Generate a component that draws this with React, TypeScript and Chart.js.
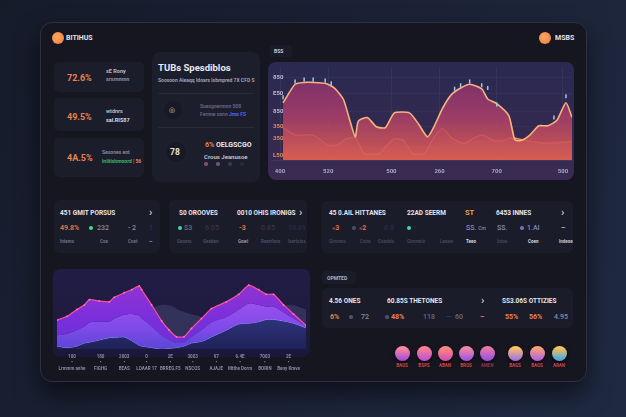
import React, { useEffect, useRef } from 'react';
import { Chart, registerables } from 'chart.js';
Chart.register(...registerables);
Chart.defaults.font.family = 'Roboto, "DejaVu Sans", sans-serif';

// ---------- top area chart data ----------
const topMainX = [4, 8, 11, 14, 18, 21, 24, 26, 28, 29, 32, 35, 38, 41, 46, 49, 52, 54, 57, 60, 63, 66, 70, 72, 75, 79, 81, 83, 86, 89, 92, 95, 98, 100];
const topMainY = [62, 82, 84, 84, 83, 78, 66, 45, 25, 42, 46, 36, 35, 51, 51, 39, 25, 35, 56, 71, 78, 82, 77, 66, 61, 48, 22, 21, 27, 37, 37, 43, 62, 46];
const topLowX = [4, 8, 14, 19, 22, 25, 28, 31, 36, 38, 41, 44, 47, 51, 54, 57, 60, 64, 67, 70, 74, 77, 80, 86, 93, 100];
const topLowY = [35, 27, 27, 16, 16, 23, 24, 7, 7, 14, 23, 21, 7, 7, 24, 34, 24, 18, 23, 27, 21, 21, 24, 20, 18, 20];
const topBandX = [4, 14, 24, 34, 44, 54, 64, 74, 84, 94, 100];
const topBandY = [14, 18, 17, 13, 16, 14, 19, 21, 18, 20, 19];
const topMarkX = [4, 8, 11, 14, 18, 20, 61, 63, 66, 70, 72, 75, 94, 98];
const topMarkY = [68, 85, 87, 87, 86, 83, 77, 81, 85, 81, 78, 60, 46, 69];
const topYTickVals = [89, 72, 52, 36, 23, 5];
const topYTickLabels = ['850', 'E50', '850', '350', '350', 'L500'];
const topXTickVals = [3, 19, 40, 56, 75, 97];
const topXTickLabels = ['400', '520', '500', '260', '700', '500'];

// ---------- bottom area chart data ----------
const botX = [0, 4, 8, 11, 13, 17, 21, 23, 27, 30, 33, 34, 38, 42, 45, 48, 51, 54, 58, 62, 68, 73, 77, 81, 84, 87, 91, 95, 100];
const botTop = [38, 43, 52, 58, 65, 63, 62, 68, 74, 78, 83, 78, 58, 37, 25, 16, 16, 27, 40, 53, 62, 72, 84, 78, 72, 72, 58, 46, 31];
const botMid = [18, 20, 25, 30, 35, 36, 36, 40, 45, 46, 44, 40, 30, 18, 12, 8, 9, 16, 25, 35, 42, 52, 60, 58, 56, 56, 48, 40, 30];
const botLow = [4, 2, 4, 8, 9, 12, 15, 15, 16, 11, 5, 4, 2, 0, 1, 2, 4, 8, 10, 16, 25, 33, 34, 36, 39, 39, 37, 34, 28];
const hazeX = [34, 38, 44, 50, 56, 62, 70, 78, 86, 94, 100];
const hazeY = [30, 52, 58, 50, 44, 40, 50, 56, 54, 58, 52];
const botTickVals = [6, 17.5, 27, 36, 45.5, 54.5, 64, 73.5, 83.5, 93];
const botTickNums = ['100', '180', '2003', '0', '2E', '3003', '97', '6.4E', '7003', '2E'];
const botTickNames = ['Lrmmm anhe', 'FIGHG', 'BEAS', 'LOAAR 17', 'BRREG.F5', 'NSCOS', 'AJAJE', 'Mtthe Dorm', 'BORIN', 'Beny Krave'];

// ---------- gradient orbs ----------
const orbLabels = ['BAOS', 'BSPS', 'ABAN', 'BROS', 'AMEN', 'BAGS', 'BAOS', 'ARAN'];
const orbTop = ['#ff8c98', '#ff8290', '#ff8a80', '#f58aa4', '#ee78a6', '#ffc462', '#ffa472', '#ffc452'];
const orbBottom = ['#a64ad8', '#c050d0', '#d050b0', '#a452e0', '#9452e2', '#a070e8', '#b060e0', '#3fa8e8'];

const pts = (xs: number[], ys: number[]) => xs.map((x, i) => ({ x, y: ys[i] }));

const vGrad = (stops: [number, string][]) => (c: any) => {
  const ch = c.chart;
  const a = ch.chartArea;
  if (!a) return 'rgba(0,0,0,0)';
  const g = ch.ctx.createLinearGradient(0, a.top, 0, a.bottom);
  stops.forEach(([o, col]) => g.addColorStop(o, col));
  return g;
};

function TopChart() {
  const ref = useRef<HTMLCanvasElement>(null);
  useEffect(() => {
    const chart = new Chart(ref.current!, {
      type: 'line',
      data: {
        datasets: [
          {
            data: pts(topMarkX, topMarkY), showLine: false, pointStyle: 'line', rotation: 90,
            pointRadius: 2, borderColor: '#9cc8ec', pointBorderColor: '#9cc8ec', borderWidth: 1.5, pointBorderWidth: 1.5,
          },
          {
            data: pts(topMainX, topMainY), borderColor: '#f8b27e', borderWidth: 1.6, pointRadius: 0, tension: 0.2,
            fill: 'origin',
            backgroundColor: vGrad([[0, 'rgba(128,46,110,0.85)'], [0.5, 'rgba(170,62,106,0.85)'], [1, 'rgba(222,96,80,0.9)']]),
          },
          {
            data: pts(topLowX, topLowY), borderColor: '#f28c58', borderWidth: 1.4, pointRadius: 0, tension: 0.2,
            fill: 'origin', backgroundColor: 'rgba(232,104,82,0.35)',
          },
          {
            data: pts(topBandX, topBandY), borderColor: 'rgba(170,100,180,0.5)', borderWidth: 0.8, pointRadius: 0, tension: 0.3,
            fill: 'origin', backgroundColor: 'rgba(150,70,140,0.35)',
          },
        ],
      },
      options: {
        animation: false, responsive: false, maintainAspectRatio: false,
        layout: { padding: { left: 9, right: 8, top: 4, bottom: 6 } },
        plugins: { legend: { display: false }, tooltip: { enabled: false } },
        scales: {
          x: {
            type: 'linear', min: 0, max: 100,
            afterBuildTicks: (a: any) => { a.ticks = topXTickVals.map((v) => ({ value: v })); },
            afterFit: (a: any) => { a.height = 14; },
            ticks: {
              autoSkip: false, maxRotation: 0, padding: 8, color: '#a6a6bc', font: { size: 6, weight: 'bold' },
              callback: (_v: any, i: number) => topXTickLabels[i],
            },
            grid: { color: 'rgba(255,255,255,0.05)', drawTicks: false },
            border: { color: 'rgba(255,255,255,0.06)' },
          },
          y: {
            min: 0, max: 100,
            afterBuildTicks: (a: any) => { a.ticks = topYTickVals.map((v) => ({ value: v })); },
            afterFit: (a: any) => { a.width = 0; },
            ticks: {
              mirror: true, padding: 2, autoSkip: false, font: { size: 6, weight: 'bold' },
              color: (c: any) => (c.index < 3 ? '#b9b9d2' : '#e2865c'),
              callback: (_v: any, i: number) => topYTickLabels[i],
            },
            grid: { color: 'rgba(255,255,255,0.035)', drawTicks: false },
            border: { display: false },
          },
        },
      } as any,
    });
    return () => chart.destroy();
  }, []);
  return <canvas ref={ref} width={318} height={118} style={{ position: 'absolute', left: 262, top: 62 }} />;
}

function BottomChart() {
  const ref = useRef<HTMLCanvasElement>(null);
  useEffect(() => {
    const chart = new Chart(ref.current!, {
      type: 'line',
      data: {
        datasets: [
          {
            data: pts(botX, botTop), borderColor: '#ff4f9c', borderWidth: 1.2, pointRadius: 0.9,
            pointBackgroundColor: '#ff7ab4', pointBorderWidth: 0, tension: 0.15, fill: '+1',
            backgroundColor: vGrad([[0.1, '#9334d2'], [0.6, '#7a2fdc'], [1, '#6a30d6']]),
          },
          {
            data: pts(botX, botMid), borderWidth: 0, pointRadius: 0, tension: 0.3, fill: '+1',
            backgroundColor: vGrad([[0.3, '#a152f0'], [0.75, '#7d4ae8'], [1, '#5a46d6']]),
          },
          {
            data: pts(botX, botLow), borderColor: '#9496ff', borderWidth: 1, pointRadius: 0, tension: 0.3, fill: 'origin',
            backgroundColor: vGrad([[0.4, '#363c8e'], [1, '#1f2258']]),
          },
          {
            data: pts(hazeX, hazeY), borderWidth: 0, pointRadius: 0, tension: 0.4, fill: 'origin',
            backgroundColor: 'rgba(100,110,160,0.28)',
          },
        ],
      },
      options: {
        animation: false, responsive: false, maintainAspectRatio: false,
        layout: { padding: 0 },
        plugins: { legend: { display: false }, tooltip: { enabled: false } },
        scales: {
          x: {
            type: 'linear', min: 0, max: 100,
            afterBuildTicks: (a: any) => { a.ticks = botTickVals.map((v) => ({ value: v })); },
            afterFit: (a: any) => { a.height = 33; },
            ticks: {
              autoSkip: false, maxRotation: 0, padding: -3, color: '#8b8aa8', font: { size: 4.5, weight: 'bold', lineHeight: 1.3 },
              callback: (_v: any, i: number) => [botTickNums[i], '•', botTickNames[i]],
            },
            grid: { display: false },
            border: { display: false },
          },
          y: { display: false, min: 0, max: 100 },
        },
      } as any,
    });
    return () => chart.destroy();
  }, []);
  return <canvas ref={ref} width={257} height={113} style={{ position: 'absolute', left: 53, top: 269 }} />;
}

const T = ({ x, y, s = 6, c = '#e4e4ee', w = 700, children }: any) => (
  <div style={{ position: 'absolute', left: x, top: y, transform: 'translateY(-50%)', fontSize: s, color: c, fontWeight: w, lineHeight: 1, whiteSpace: 'nowrap' }}>
    {children}
  </div>
);
const R = ({ x, y, w, h, bg = '#1c1d2a', r = 6, style }: any) => (
  <div style={{ position: 'absolute', left: x, top: y, width: w, height: h, background: bg, borderRadius: r, ...style }} />
);
const Dot = ({ x, y, c, r = 2 }: any) => (
  <div style={{ position: 'absolute', left: x - r, top: y - r, width: r * 2, height: r * 2, borderRadius: '50%', background: c }} />
);

const OR = '#e8824e';
const DIM = '#6f6f88';

export default function App() {
  return (
    <div style={{ position: 'fixed', left: 0, top: 0, width: 626, height: 417, overflow: 'hidden', fontFamily: 'Roboto, "DejaVu Sans", sans-serif', background: 'linear-gradient(120deg, #161b2a 0%, #1b2235 45%, #1f2a42 100%)' }}>
      {/* frame */}
      <div style={{ position: 'absolute', left: 40, top: 22, width: 545, height: 358, background: '#15161f', border: '1.5px solid #2c3041', borderRadius: 12, boxShadow: '0 12px 24px rgba(0,0,0,0.55)' }} />

      {/* header */}
      <Dot x={58} y={38} r={6} c="radial-gradient(circle at 40% 40%, #ffa866, #ea7b35)" />
      <T x={66} y={38} s={7}>BITIHUS</T>
      <Dot x={545} y={38} r={6} c="radial-gradient(circle at 40% 40%, #ffa866, #ea7b35)" />
      <T x={555} y={38} s={7}>MSBS</T>

      {/* left stat cards */}
      <R x={54} y={62} w={90} h={30} r={5} />
      <T x={67} y={78} s={9} c={OR}>72.6%</T>
      <T x={106} y={72} s={5.5} c="#b8b8c8">sE Rony</T>
      <T x={106} y={80} s={5.5} c="#8e8ea6">srsmmnn</T>
      <R x={54} y={98} w={90} h={33} r={5} />
      <T x={67} y={117} s={9} c={OR}>49.5%</T>
      <T x={106} y={112} s={5.5} c="#b8b8c8">wtdnrs</T>
      <T x={106} y={121} s={5.5} c="#d8d8e4">sal.RIS87</T>
      <R x={54} y={138} w={90} h={39} r={5} />
      <T x={67} y={158} s={9} c={OR}>4A.5%</T>
      <T x={102} y={152} s={5} c="#8e8ea6" w={600}>Sesones ent</T>
      <T x={102} y={161} s={5} c="#3fb56a">lniltishmoord <span style={{ color: OR }}>| 56</span></T>

      {/* middle card */}
      <R x={152} y={52} w={108} h={130} r={8} bg="#1d1e2b" />
      <T x={158} y={68} s={9.5} c="#e8e8f2">TUBs Spesdiblos</T>
      <T x={158} y={80} s={5} c="#a9a9bb" w={600}>Soosoon Aieaqq Idoars lsbmpred 7X CFD S</T>
      <R x={158} y={93} w={96} h={1} r={0} bg="#282a38" />
      <Dot x={173} y={110} r={9} c="#181925" />
      <T x={169} y={110} s={7} c="#d6cca8">◎</T>
      <T x={200} y={106} s={5} c="#6a6a88" w={600}>Suesgoermon 508</T>
      <T x={200} y={114} s={5} c="#6a6a88" w={600}>Fernne osnn <span style={{ color: '#5b6cff' }}>Jmo FS</span></T>
      <R x={158} y={127} w={96} h={1} r={0} bg="#282a38" />
      <Dot x={176} y={152} r={10} c="#181925" />
      <T x={170} y={152} s={8.5} c="#e8e0d0">78</T>
      <T x={205} y={145} s={7} c="#e8e8f0"><span style={{ color: OR }}>6%</span> OELGSCGO</T>
      <T x={204} y={157} s={6} c="#c8c8d8" w={600}>Crous Jeanusoe</T>
      <Dot x={206} y={164} r={1.8} c="#8a4a7a" />
      <Dot x={218} y={164} r={1.8} c="#7a4a8a" />
      <Dot x={230} y={164} r={1.8} c="#3a3550" />
      <Dot x={242} y={164} r={1.8} c="#2a2a3a" />

      {/* top chart card */}
      <R x={270} y={45} w={22} h={12} r={3} bg="#1b1c29" />
      <T x={274} y={51} s={5} c="#c8c8d8">BSS</T>
      <R x={268} y={62} w={306} h={118} r={8} bg="linear-gradient(180deg, #2a2952 0%, #33294f 60%, #3a2b52 100%)" />
      <TopChart />

      {/* row 2 card 1 */}
      <R x={54} y={200} w={106} h={53} r={6} bg="#1b1c29" />
      <T x={60} y={213} s={6.5}>451 GMIT PORSUS</T>
      <T x={149} y={212} s={11} c="#e0e0e8" w={400}>›</T>
      <T x={60} y={228} s={7} c="#e0704a">49.8%</T>
      <Dot x={91} y={228} r={2} c="#3ddc97" />
      <T x={97} y={228} s={7} c="#8a8aa0" w={500}>232</T>
      <T x={128} y={228} s={7} c="#8a8aa0" w={500}>- 2</T>
      <T x={150} y={228} s={7} c="#3a3a50" w={500}>!</T>
      <T x={60} y={242} s={4.5} c={DIM}>Intems</T>
      <T x={100} y={242} s={4.5} c={DIM}>Coe</T>
      <T x={128} y={242} s={4.5} c={DIM}>Coet</T>
      <T x={149} y={242} s={4.5} c="#9a9ab0">—</T>

      {/* row 2 card 2 */}
      <R x={169} y={200} w={138} h={53} r={6} bg="#1b1c29" />
      <T x={179} y={213} s={6.5}>S0 OROOVES</T>
      <T x={237} y={213} s={6.5}>0010 OHIS IRONIGS</T>
      <T x={299} y={212} s={11} c="#e0e0e8" w={400}>›</T>
      <Dot x={180} y={228} r={2} c="#3ddc97" />
      <T x={184} y={228} s={7} c="#6a6a88" w={500}>S3</T>
      <T x={205} y={228} s={7} c="#34344c" w={500}>6.05</T>
      <T x={239} y={228} s={7} c="#e0704a">-3</T>
      <T x={261} y={228} s={7} c="#34344c" w={500}>0.85</T>
      <T x={288} y={228} s={7} c="#2c2c44" w={500}>10.01</T>
      <T x={177} y={242} s={4.5} c="#4a4a62">Genera</T>
      <T x={203} y={242} s={4.5} c="#4a4a62">Geeben</T>
      <T x={238} y={242} s={4.5} c="#9a9ab0">Gowi</T>
      <T x={261} y={242} s={4.5} c="#4a4a62">Reenfane</T>
      <T x={288} y={242} s={4.5} c="#4a4a62">Isertsios</T>

      {/* row 2 card 3 */}
      <R x={321} y={201} w={252} h={52} r={6} bg="#1b1c29" />
      <T x={329} y={213} s={6.5}>45 0.AIL HITTANES</T>
      <T x={407} y={213} s={6.5}>22AD SEERM</T>
      <T x={465} y={213} s={7.5} c="#e8a040">ST</T>
      <T x={496} y={213} s={6.5}>6453 INNES</T>
      <T x={561} y={212} s={11} c="#e0e0e8" w={400}>›</T>
      <T x={332} y={228} s={7} c="#e0704a"><span style={{ fontSize: 4 }}>≡</span>3</T>
      <Dot x={354} y={228} r={1.8} c="#4a4a68" />
      <T x={359} y={228} s={7} c="#e0704a"><span style={{ fontSize: 4 }}>≡</span>2</T>
      <T x={384} y={228} s={7} c="#2e2e46" w={500}>0.0</T>
      <Dot x={409} y={228} r={2} c="#3ddc97" />
      <T x={413} y={228} s={6} c="#2e2e46" w={500}>?</T>
      <T x={466} y={228} s={7} c="#8a8ab8" w={500}>SS. <span style={{ fontSize: 5 }}>Cm</span></T>
      <T x={497} y={228} s={7} c="#8a8ab8" w={500}>SS.</T>
      <Dot x={522} y={228} r={1.8} c="#7070b0" />
      <T x={527} y={228} s={7} c="#8a8ab8" w={500}>1.AI</T>
      <T x={561} y={228} s={7} c="#b0b0c8">–</T>
      <T x={329} y={242} s={4.5} c="#44445c">Gimmes</T>
      <T x={360} y={242} s={4.5} c="#44445c">Cone</T>
      <T x={378} y={242} s={4.5} c="#44445c">Coedeis</T>
      <T x={407} y={242} s={4.5} c="#44445c">Gimmeis</T>
      <T x={440} y={242} s={4.5} c="#44445c">Leeew</T>
      <T x={466} y={242} s={4.5} c="#d8d8e4">Teeo</T>
      <T x={497} y={242} s={4.5} c="#44445c">Intoe</T>
      <T x={528} y={242} s={4.5} c="#d8d8e4">Coen</T>
      <T x={559} y={242} s={4.5} c="#c8c8d8">Indeoe</T>

      {/* bottom chart card */}
      <R x={53} y={269} w={257} h={88} r={7} bg="linear-gradient(180deg, #211c44 0%, #1e1a3e 80%, #19173a 100%)" />
      <BottomChart />

      {/* bottom right */}
      <R x={322} y={271} w={34} h={13} r={4} bg="#1b1c29" />
      <T x={327} y={277.5} s={5} c="#b0b0c0">OPMTED</T>
      <R x={322} y={288} w={251} h={40} r={6} bg="#1b1c29" />
      <T x={329} y={301} s={6.5}>4.56 ONES</T>
      <T x={387} y={301} s={6.5}>60.85S THETONES</T>
      <T x={481} y={300} s={11} c="#e0e0e8" w={400}>›</T>
      <T x={502} y={301} s={6.5}>SS3.06S OTTIZIES</T>
      <T x={330} y={317} s={7} c={OR}>6%</T>
      <Dot x={351} y={317} r={1.8} c="#505068" />
      <T x={361} y={317} s={7} c="#8a8aa0" w={500}>72</T>
      <Dot x={387} y={317} r={1.8} c="#505068" />
      <T x={391} y={317} s={7} c={OR}>48%</T>
      <T x={423} y={317} s={7} c="#6a6a80" w={500}>118</T>
      <T x={446} y={317} s={7} c="#404055" w={500}>—</T>
      <T x={455} y={317} s={7} c="#6a6a80" w={500}>60</T>
      <T x={480} y={317} s={7} c={OR}>–</T>
      <T x={505} y={317} s={7} c={OR}>55%</T>
      <T x={529} y={317} s={7} c={OR}>56%</T>
      <T x={554} y={317} s={7} c="#8a8aa0" w={500}>4.95</T>

      {/* orbs */}
      {orbLabels.map((lab, i) => {
        const cx = [402, 424, 445, 466, 487, 515, 537, 559][i];
        return (
          <React.Fragment key={i}>
            <div style={{ position: 'absolute', left: cx - 7.5, top: 345.5, width: 15, height: 15, borderRadius: '50%', background: `linear-gradient(180deg, ${orbTop[i]} 10%, ${orbBottom[i]} 95%)`, boxShadow: '0 2px 4px rgba(0,0,0,0.5)' }} />
            <div style={{ position: 'absolute', left: cx - 15, width: 30, top: 364, textAlign: 'center', fontSize: 4.5, fontWeight: 700, color: i === 4 ? '#9a3040' : '#d24444', lineHeight: 1 }}>{lab}</div>
          </React.Fragment>
        );
      })}
    </div>
  );
}
